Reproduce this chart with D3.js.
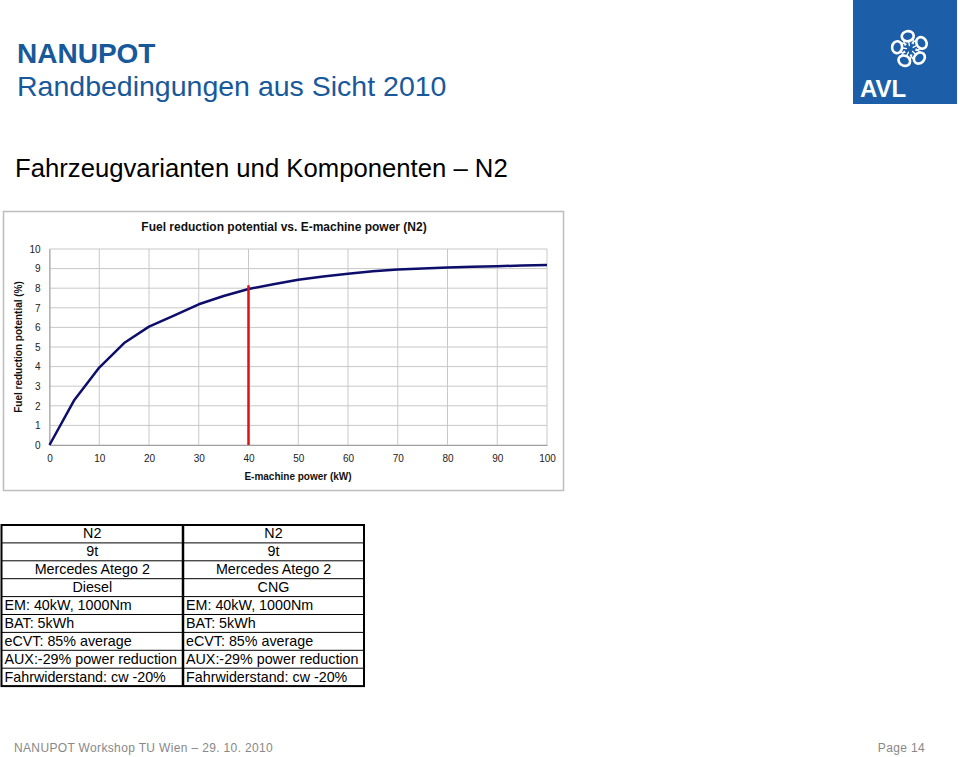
<!DOCTYPE html>
<html><head><meta charset="utf-8">
<script src="https://cdn.jsdelivr.net/npm/d3@7"></script>
<style>
body{margin:0;background:#fff;}
svg{display:block;font-family:Arial,"Liberation Sans",sans-serif;}
</style></head>
<body>
<svg id="c" width="960" height="757"></svg>
<script>
const powerKW = [0,5,10,15,20,25,30,35,40,45,50,55,60,65,70,75,80,85,90,95,100];
const fuelReduction = [0,2.3,3.95,5.2,6.04,6.6,7.18,7.6,7.96,8.2,8.43,8.6,8.74,8.86,8.95,9.01,9.06,9.09,9.12,9.16,9.19];
const markerKW = 40;
const markerTop = 8.15;
const xTicks = [0,10,20,30,40,50,60,70,80,90,100];
const yTicks = [0,1,2,3,4,5,6,7,8,9,10];
const tableHeaderRows = [["N2","N2"],["9t","9t"],["Mercedes Atego 2","Mercedes Atego 2"],["Diesel","CNG"]];
const tableBodyRows = [["EM: 40kW, 1000Nm","EM: 40kW, 1000Nm"],["BAT: 5kWh","BAT: 5kWh"],["eCVT: 85% average","eCVT: 85% average"],["AUX:-29% power reduction","AUX:-29% power reduction"],["Fahrwiderstand: cw -20%","Fahrwiderstand: cw -20%"]];

const svg = d3.select("#c");

// Header
svg.append("text").attr("x",17).attr("y",63).attr("fill","#17599a").attr("font-size",28).attr("font-weight","bold").text("NANUPOT");
svg.append("text").attr("x",17).attr("y",96).attr("fill","#17599a").attr("font-size",28.5).text("Randbedingungen aus Sicht 2010");
svg.append("text").attr("x",15).attr("y",177).attr("fill","#000").attr("font-size",25.7).text("Fahrzeugvarianten und Komponenten \u2013 N2");

// Logo
const logo = svg.append("g");
logo.append("rect").attr("x",853).attr("y",0).attr("width",104).attr("height",104).attr("fill","#1c5fa8");
logo.append("text").attr("x",860).attr("y",97).attr("fill","#fff").attr("font-size",24).attr("font-weight","bold").text("AVL");
const cx=910, cy=49;
for(let i=0;i<5;i++){
  const a = -100 + i*72;
  const g = logo.append("g").attr("transform",`translate(${cx},${cy}) rotate(${a}) translate(11,0)`);
  g.append("ellipse").attr("cx",2).attr("cy",0).attr("rx",5).attr("ry",6).attr("fill","none").attr("stroke","#fff").attr("stroke-width",2.6);
  g.append("path").attr("d","M-7,-4 L-1,-5 M-8,0 L-2,0 M-7,4 L-1,5").attr("stroke","#fff").attr("stroke-width",1.3);
}

// Chart frame
svg.append("rect").attr("x",3.5).attr("y",211.5).attr("width",560).attr("height",279).attr("fill","#fff").attr("stroke","#bdbdbd").attr("stroke-width",1.5);

const x = d3.scaleLinear().domain([0,100]).range([49.5,547]);
const y = d3.scaleLinear().domain([0,10]).range([445,249]);

// gridlines
const grid = svg.append("g");
grid.selectAll("line.v").data(xTicks).join("line").attr("class","v")
  .attr("x1",d=>x(d)).attr("x2",d=>x(d)).attr("y1",y(0)).attr("y2",y(10))
  .attr("stroke","#c8c8c8").attr("stroke-width",1);
grid.selectAll("line.h").data(yTicks).join("line").attr("class","h")
  .attr("x1",x(0)).attr("x2",x(100)).attr("y1",d=>y(d)).attr("y2",d=>y(d))
  .attr("stroke","#c8c8c8").attr("stroke-width",1);

// axes
const xAxis = svg.append("g").attr("transform",`translate(0,${y(0)})`)
  .call(d3.axisBottom(x).tickValues(xTicks).tickSize(0).tickPadding(10));
const yAxis = svg.append("g").attr("transform",`translate(${x(0)},0)`)
  .call(d3.axisLeft(y).tickValues(yTicks).tickSize(0).tickPadding(9));
[xAxis,yAxis].forEach(a=>{
  a.select(".domain").attr("stroke","#a0a0a0");
  a.selectAll("text").attr("font-size",10).attr("fill","#222").attr("font-family","Arial,'Liberation Sans',sans-serif");
});

// line
svg.append("path").datum(powerKW.map((p,i)=>[p,fuelReduction[i]]))
  .attr("d",d3.line().x(d=>x(d[0])).y(d=>y(d[1])))
  .attr("fill","none").attr("stroke","#0d0d6b").attr("stroke-width",2.5).attr("stroke-linejoin","round");

// marker
svg.append("line").attr("x1",x(markerKW)).attr("x2",x(markerKW)).attr("y1",y(0)).attr("y2",y(markerTop))
  .attr("stroke","#e01010").attr("stroke-width",2.5);

// titles
svg.append("text").attr("x",284).attr("y",231).attr("text-anchor","middle").attr("font-size",12).attr("font-weight","bold").attr("fill","#111")
  .text("Fuel reduction potential vs. E-machine power (N2)");
svg.append("text").attr("x",298).attr("y",480).attr("text-anchor","middle").attr("font-size",10).attr("font-weight","bold").attr("fill","#111")
  .text("E-machine power (kW)");
svg.append("text").attr("transform","translate(22,347) rotate(-90)").attr("text-anchor","middle").attr("font-size",10).attr("font-weight","bold").attr("fill","#111")
  .text("Fuel reduction potential (%)");

// Table
const tX0=1.5, tX1=183, tX2=364, tY0=525, rowH=17.9;
const rows = tableHeaderRows.concat(tableBodyRows);
const tbl = svg.append("g");
rows.forEach((r,i)=>{
  const yy = tY0 + i*rowH;
  const centered = i < tableHeaderRows.length;
  [0,1].forEach(j=>{
    const xl = j===0?tX0:tX1, xr = j===0?tX1:tX2;
    tbl.append("text")
      .attr("x", centered ? (xl+xr)/2 : xl+3)
      .attr("y", yy + rowH - 4.5)
      .attr("text-anchor", centered ? "middle":"start")
      .attr("font-size",14.3).attr("fill","#000").text(r[j]);
  });
  if(i>0){
    tbl.append("line").attr("x1",tX0).attr("x2",tX2).attr("y1",yy).attr("y2",yy).attr("stroke","#000").attr("stroke-width",1);
  }
});
const tY1 = tY0 + rows.length*rowH;
tbl.append("rect").attr("x",tX0).attr("y",tY0).attr("width",tX2-tX0).attr("height",tY1-tY0).attr("fill","none").attr("stroke","#000").attr("stroke-width",2);
tbl.append("line").attr("x1",tX1).attr("x2",tX1).attr("y1",tY0).attr("y2",tY1).attr("stroke","#000").attr("stroke-width",2.5);

// footer
svg.append("text").attr("x",14).attr("y",752).attr("font-size",12).attr("fill","#888").attr("letter-spacing","0.35")
  .attr("font-family","'Liberation Sans Narrow','Arial Narrow',Arial,sans-serif").text("NANUPOT Workshop TU Wien \u2013 29. 10. 2010");
svg.append("text").attr("x",925).attr("y",752).attr("text-anchor","end").attr("font-size",12).attr("fill","#888").attr("letter-spacing","0.35")
  .attr("font-family","'Liberation Sans Narrow','Arial Narrow',Arial,sans-serif").text("Page 14");
</script>
</body></html>
